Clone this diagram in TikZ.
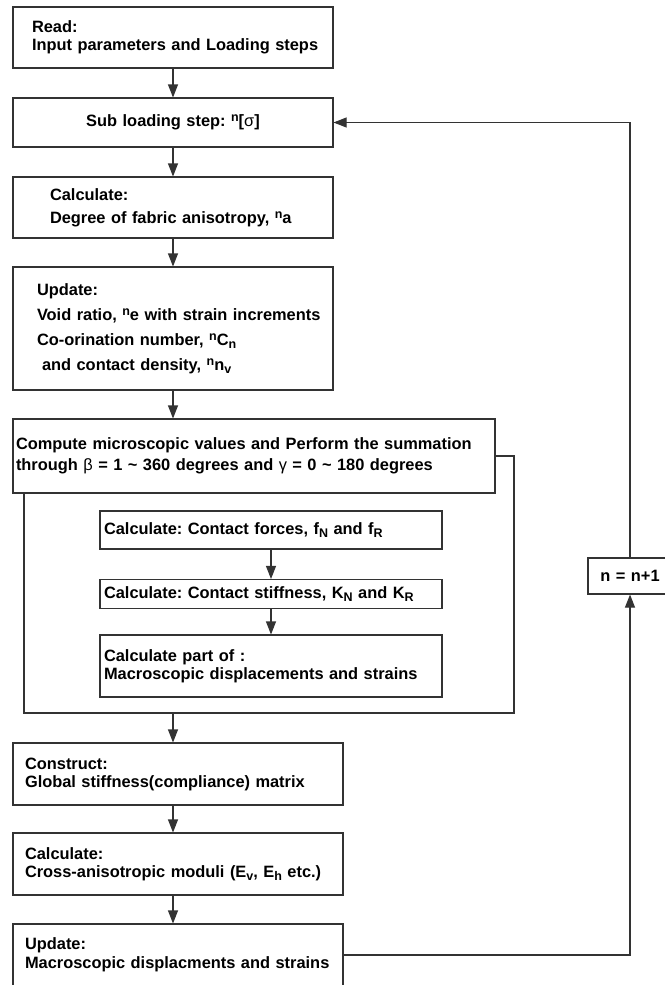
\documentclass[tikz,border=0pt]{standalone}
\usepackage{fontspec}
\setmainfont{Liberation Sans}
\usetikzlibrary{arrows.meta}
\newcommand\sps[1]{\raisebox{5pt}{\fontsize{12.5}{12}\selectfont #1}}
\newcommand\sbs[1]{\raisebox{-3.5pt}{\fontsize{12.5}{12}\selectfont #1}}
\tikzset{
  box/.style n args={3}{draw=black!80, line width=1.1pt, inner xsep=0pt, inner ysep=0pt,
    text width=#1, align=left, execute at begin node={\frenchspacing\leftskip=#2\relax},
    font=\bfseries\fontsize{16.4}{#3}\selectfont},
  cbox/.style={draw=black!80, line width=1.1pt, inner xsep=0pt, inner ysep=0pt,
    text width=#1, align=center, execute at begin node={\frenchspacing},
    font=\bfseries\fontsize{16.4}{18}\selectfont},
  link/.style={draw=black!80, line width=1.1pt, -{Triangle[length=13pt,width=10pt]}},
  frame/.style={draw=black!80, line width=1.1pt},
}
\begin{document}
\begin{tikzpicture}[x=1pt,y=-1pt]
	\useasboundingbox (0,0) rectangle (664,985);
	\node[box={320pt}{19pt}{18pt},minimum height=61pt] (1) at (173,37.5) {Read:\\Input parameters and Loading steps};
	\node[cbox=320pt,minimum height=49pt] (2) at (173,122.5) {Sub loading step: \sps{n}[{\mdseries σ}]};
	\node[box={320pt}{37pt}{23pt},minimum height=61pt] (3) at (173,207.5) {Calculate:\\Degree of fabric anisotropy, \sps{n}a};
	\node[box={320pt}{24pt}{25pt},minimum height=123pt] (4) at (173,328.5) {Update:\\Void ratio, \sps{n}e with strain increments\\Co-orination number, \sps{n}C\sbs{n}\\\hspace*{5pt}and contact density, \sps{n}n\sbs{v}};
	\node[box={482pt}{3pt}{21pt},minimum height=74pt] (5) at (254,456) {Compute microscopic values and Perform the summation\\through {\mdseries β} = 1 \textasciitilde{} 360 degrees and {\mdseries γ} = 0 \textasciitilde{} 180 degrees};
	\node[box={342pt}{4pt}{18pt},minimum height=38pt] (6) at (271,530) {Calculate: Contact forces, f\sbs{N} and f\sbs{R}};
	\node[box={342pt}{4pt}{18pt},minimum height=29pt] (7) at (271,594) {Calculate: Contact stiffness, K\sbs{N} and K\sbs{R}};
	\node[box={342pt}{4pt}{18pt},minimum height=62pt] (8) at (271,666) {Calculate part of :\\Macroscopic displacements and strains};
	\node[box={330pt}{12pt}{18pt},minimum height=62pt] (9) at (178,774) {Construct:\\Global stiffness(compliance) matrix};
	\node[box={330pt}{12pt}{18pt},minimum height=62pt] (10) at (178,864) {Calculate:\\Cross-anisotropic moduli (E\sbs{v}, E\sbs{h} etc.)};
	\node[box={330pt}{12pt}{19pt},minimum height=62pt] (11) at (178,955) {Update:\\Macroscopic displacments and strains};
	\node[cbox=84pt,minimum height=36pt] (n) at (630,576) {n = n+1};
	% loop frame round the summation
	\coordinate (f1) at (514,456); \coordinate (f2) at (514,713); \coordinate (f3) at (24,713);
	\draw[frame] (5.east) -- (f1) -- (f2) -- (f3) -- (f3 |- 5.south);
	\draw[link] (1) -- (2);
	\draw[link] (2) -- (3);
	\draw[link] (3) -- (4);
	\draw[link] (4) -- (4 |- 5.north);
	\draw[link] (6) -- (7);
	\draw[link] (7) -- (8);
	\draw[link] (1 |- f2) -- (1 |- 9.north);
	\draw[link] (1 |- 9.south) -- (1 |- 10.north);
	\draw[link] (1 |- 10.south) -- (1 |- 11.north);
	% feedback to the next sub step
	\draw[link] (11) -- (11 -| n) -- (n);
	\draw[link] (n) -- (n |- 2) -- (2);
\end{tikzpicture}
\end{document}
